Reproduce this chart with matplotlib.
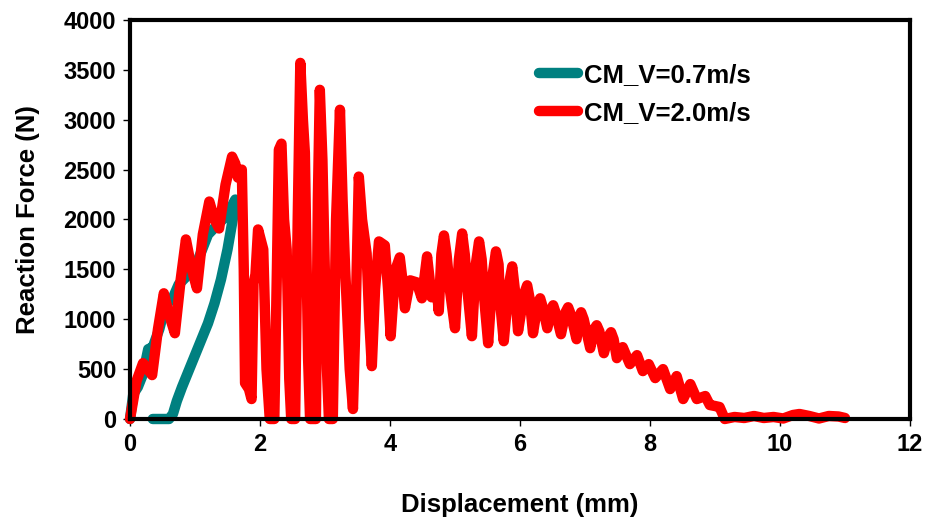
import numpy as np
import matplotlib.pyplot as plt

plt.rcParams['font.family'] = ['Liberation Sans', 'DejaVu Sans']
plt.rcParams['font.weight'] = 'bold'

# CM_V=0.7m/s : loading then unloading
slow_x = [0.0, 0.05, 0.12, 0.2, 0.28, 0.35, 0.45, 0.55, 0.65, 0.75, 0.9, 1.05, 1.2, 1.35, 1.5, 1.62,
          1.58, 1.5, 1.4, 1.3, 1.2, 1.1, 1.0, 0.9, 0.8, 0.72, 0.66, 0.6, 0.45, 0.35]
slow_y = [0, 250, 320, 450, 700, 720, 900, 1150, 1200, 1350, 1450, 1600, 1850, 1950, 2050, 2200,
          2000, 1700, 1400, 1160, 960, 800, 640, 480, 320, 180, 50, 0, 0, 0]

# CM_V=2.0m/s
fast_x = [0.0, 0.1, 0.2, 0.27, 0.34, 0.43, 0.52, 0.6, 0.69, 0.78, 0.86, 0.95, 1.03, 1.12, 1.22, 1.3,
          1.37, 1.47, 1.57, 1.62, 1.66, 1.72, 1.75, 1.77, 1.83, 1.87, 1.9, 1.93, 1.97, 2.01, 2.05,
          2.1, 2.15, 2.22, 2.26, 2.29, 2.33, 2.37, 2.41, 2.45, 2.48, 2.54, 2.58, 2.62, 2.66, 2.69,
          2.74, 2.77, 2.86, 2.89, 2.92, 2.96, 3.03, 3.06, 3.12, 3.17, 3.23, 3.27, 3.31, 3.38, 3.43,
          3.47, 3.52, 3.57, 3.64, 3.68, 3.72, 3.77, 3.83, 3.92, 3.97, 4.01, 4.08, 4.15, 4.19, 4.23,
          4.31, 4.41, 4.49, 4.57, 4.64, 4.72, 4.75, 4.79, 4.83, 4.87, 4.92, 5.0, 5.06, 5.11, 5.15,
          5.19, 5.26, 5.32, 5.37, 5.41, 5.45, 5.51, 5.58, 5.63, 5.67, 5.69, 5.75, 5.83, 5.88, 5.92,
          5.97, 6.06, 6.11, 6.15, 6.2, 6.27, 6.31, 6.35, 6.42, 6.48, 6.51, 6.55, 6.63, 6.7, 6.74,
          6.78, 6.87, 6.91, 6.94, 6.98, 7.08, 7.14, 7.18, 7.22, 7.29, 7.36, 7.4, 7.44, 7.49, 7.58,
          7.69, 7.8, 7.89, 7.98, 8.08, 8.2, 8.31, 8.41, 8.51, 8.62, 8.72, 8.85, 8.92, 9.0, 9.07,
          9.15, 9.3, 9.45, 9.6, 9.75, 9.9, 10.05, 10.2, 10.3, 10.45, 10.6, 10.75, 10.9, 11.0]
fast_y = [0, 380, 560, 500, 440, 900, 1260, 1050, 860, 1400, 1800, 1500, 1310, 1850, 2180, 2000,
          1910, 2350, 2630, 2560, 2420, 2500, 1500, 360, 300, 200, 1360, 1450, 1900, 1800, 1700,
          500, 0, 0, 1500, 2700, 2760, 2000, 1700, 400, 0, 0, 2000, 3570, 3000, 2670,
          600, 0, 0, 2200, 3300, 2600, 500, 0, 0, 2000, 3100, 2200, 1500, 500, 100,
          1000, 2430, 2000, 1660, 1000, 530, 1300, 1780, 1740, 1300, 830, 1490, 1620, 1400, 1110,
          1390, 1370, 1210, 1630, 1220, 1290, 1080, 1650, 1840, 1650, 1300, 910, 1600, 1860, 1650,
          1300, 830, 1550, 1780, 1600, 1200, 760, 1450, 1680, 1550, 1200, 780, 1350, 1530, 1300,
          880, 1250, 1340, 1200, 860, 1150, 1210, 1120, 910, 1100, 1140, 1060, 850, 1070, 1120,
          1050, 800, 1020, 1070, 1000, 710, 900, 940, 880, 660, 830, 870, 800, 610, 720,
          550, 640, 480, 550, 410, 500, 300, 430, 200, 350, 200, 230, 140, 130, 120,
          0, 20, 10, 30, 10, 20, 5, 40, 50, 30, 5, 30, 25, 10]

fig = plt.figure(figsize=(9.3, 5.21), dpi=100)
ax = fig.add_axes([0.1398, 0.1958, 0.8387, 0.7658])

ax.plot(slow_x, slow_y, color='#008080', lw=7.5, solid_joinstyle='round',
        solid_capstyle='round', label='CM_V=0.7m/s', clip_on=False)
ax.plot(fast_x, fast_y, color='#FF0000', lw=7.5, solid_joinstyle='round',
        solid_capstyle='round', label='CM_V=2.0m/s', clip_on=False)

ax.set_xlim(0, 12)
ax.set_ylim(0, 4000)
ax.set_xticks(np.arange(0, 13, 2))
ax.set_yticks(np.arange(0, 4001, 500))
ax.tick_params(direction='out', length=5, width=1, labelsize=17, pad=5)
for s in ax.spines.values():
    s.set_linewidth(3)
    s.set_zorder(5)

ax.set_xlabel('Displacement (mm)', fontsize=18.5, fontweight='bold', labelpad=27)
ax.set_ylabel('Reaction Force (N)', fontsize=18.5, fontweight='bold', labelpad=17)

leg = ax.legend(loc='upper left', bbox_to_anchor=(0.495, 0.95), frameon=False,
                fontsize=18.5, handlelength=1.5, labelspacing=0.55, handletextpad=0.25)
for t in leg.get_texts():
    t.set_fontweight('bold')

fig.savefig('out.png', dpi=100)
